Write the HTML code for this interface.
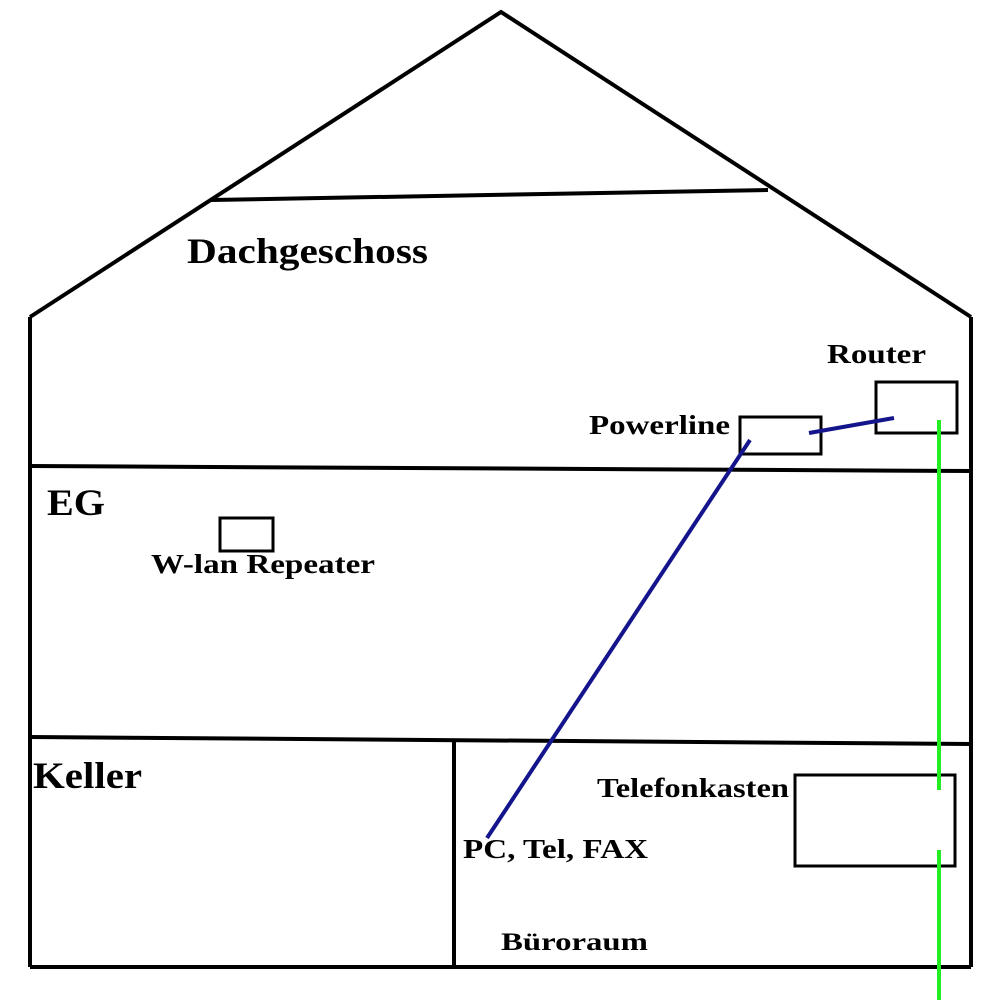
<!DOCTYPE html>
<html><head><meta charset="utf-8"><style>
html,body{margin:0;padding:0;background:#fff;}
svg{display:block;}
text{font-family:"Liberation Serif",serif;font-weight:bold;fill:#000;}
</style></head><body>
<svg width="1000" height="1000" viewBox="0 0 1000 1000" xmlns="http://www.w3.org/2000/svg">
<g stroke="#000" stroke-width="4" fill="none">
<polyline points="30,317 501,12 971,317"/>
<line x1="211" y1="200" x2="768" y2="190"/>
<line x1="30" y1="317" x2="30" y2="967"/>
<line x1="971" y1="317" x2="971" y2="967"/>
<line x1="30" y1="967" x2="971" y2="967"/>
<line x1="30" y1="466" x2="971" y2="471"/>
<line x1="30" y1="737" x2="971" y2="744"/>
<line x1="454" y1="740" x2="454" y2="967"/>
</g>
<g stroke="#000" stroke-width="3" fill="none">
<rect x="876" y="382" width="81" height="51"/>
<rect x="740" y="417" width="81" height="37"/>
<rect x="220" y="518" width="53" height="33"/>
<rect x="795" y="775" width="160" height="91"/>
</g>
<g stroke="#14148c" stroke-width="4">
<line x1="750" y1="440" x2="487" y2="838"/>
<line x1="809" y1="433" x2="894" y2="418"/>
</g>
<g stroke="#22ee22" stroke-width="4">
<line x1="939" y1="420" x2="939" y2="790"/>
<line x1="939" y1="850" x2="939" y2="1000"/>
</g>
<g lengthAdjust="spacingAndGlyphs">
<text x="187" y="263" font-size="36" textLength="241" lengthAdjust="spacingAndGlyphs">Dachgeschoss</text>
<text x="827" y="363" font-size="27" textLength="99" lengthAdjust="spacingAndGlyphs">Router</text>
<text x="589" y="434" font-size="27" textLength="141" lengthAdjust="spacingAndGlyphs">Powerline</text>
<text x="47" y="515" font-size="37" textLength="58" lengthAdjust="spacingAndGlyphs">EG</text>
<text x="151" y="573" font-size="27" textLength="224" lengthAdjust="spacingAndGlyphs">W-lan Repeater</text>
<text x="33" y="788" font-size="37" textLength="109" lengthAdjust="spacingAndGlyphs">Keller</text>
<text x="597" y="797" font-size="27" textLength="192" lengthAdjust="spacingAndGlyphs">Telefonkasten</text>
<text x="463" y="858" font-size="27" textLength="185" lengthAdjust="spacingAndGlyphs">PC, Tel, FAX</text>
<text x="501" y="950" font-size="25" textLength="147" lengthAdjust="spacingAndGlyphs">Büroraum</text>
</g>
</svg>
</body></html>
